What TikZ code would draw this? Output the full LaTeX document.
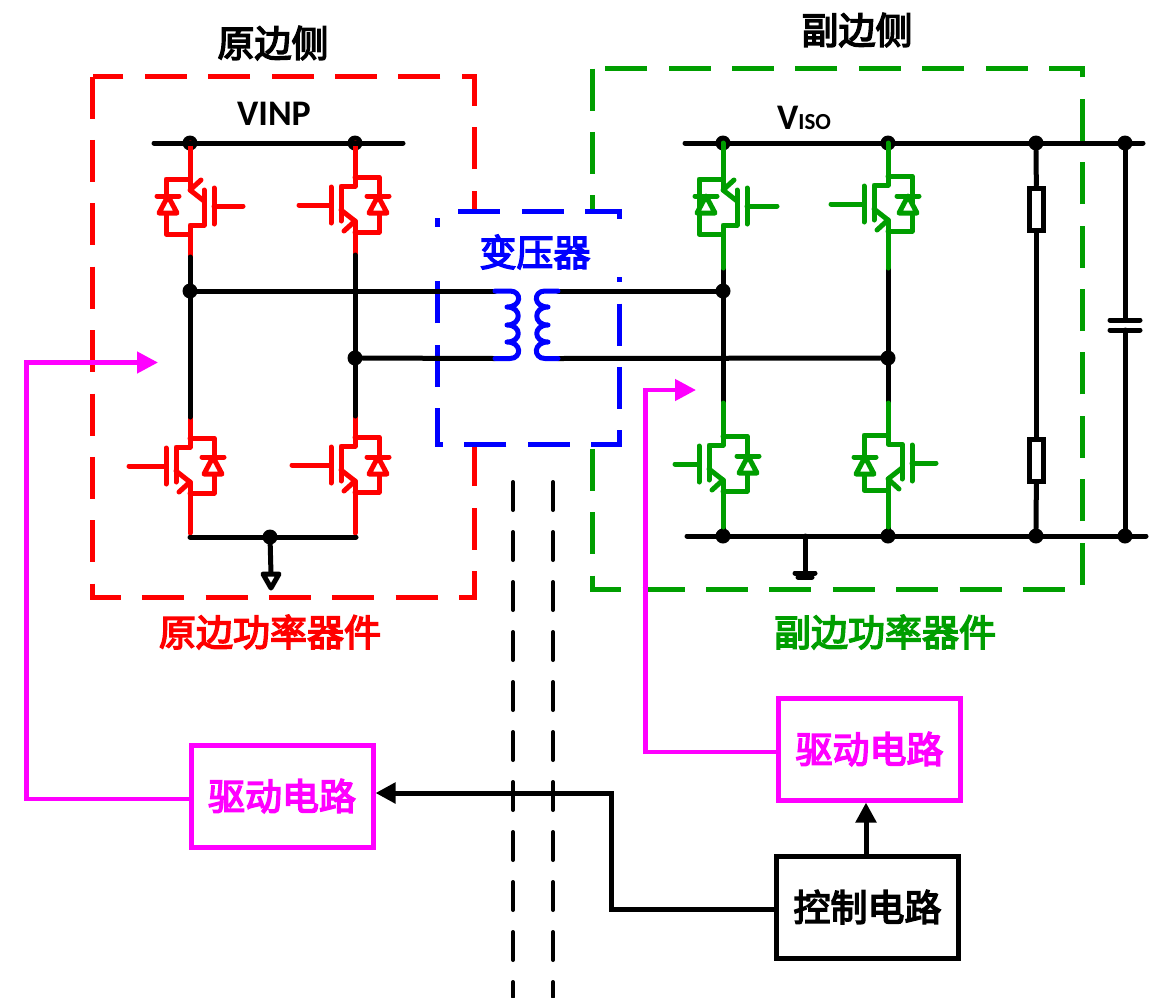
\documentclass[tikz,border=0pt]{standalone}
\usepackage{fontspec}
\usetikzlibrary{arrows.meta}
\newfontfamily\cjk[FakeBold=4]{Noto Sans CJK SC}
\newfontfamily\latin{Carlito}
\definecolor{sidegreen}{RGB}{0,158,0}
\definecolor{drivepink}{RGB}{255,0,255}
\begin{document}
\begin{tikzpicture}[x=1pt, y=-1pt]

        % Define custom styles
        \tikzset{
          wire/.style={line width=5pt, line cap=round, line join=round},
          device/.style={line width=5pt, line cap=round, line join=round},
          junction/.style={circle, fill=black, inner sep=0pt, minimum size=15pt},
          sidebox/.style={line width=5pt, dash pattern=on 42pt off 21.4pt},
          title/.style={font=\cjk\fontsize{37}{44}\selectfont, inner sep=0pt},
          volt/.style={font=\latin\bfseries\fontsize{36}{40}\selectfont, inner sep=0pt, anchor=base},
          funcbox/.style={draw, line width=5pt, fill=white, minimum width=182pt, minimum height=102pt,
            font=\cjk\fontsize{37}{44}\selectfont, inner sep=0pt},
          load/.style={draw, line width=5pt, fill=white, minimum width=14pt, minimum height=42pt, inner sep=0pt},
          drive/.style={line width=4.5pt, drivepink, -{Triangle[length=21pt, width=21pt]}},
          command/.style={line width=5pt, -{Triangle[length=20pt, width=20pt]}},
          barrier/.style={line width=4pt, line cap=round, dash pattern=on 28pt off 22pt},
          gatelen/.store in=\gatelen, gatelen=35,
          igbt/.pic={
            \draw[device] (-24-\gatelen,0) -- (-24,0);
            \draw[device] (-24,-18) -- (-24,18);
            \draw[device] (0,-28) -- (0,-19) -- (-14,-19) -- (-14,16);
            \draw[device] (-14,5) -- (0,16) -- (-11,26);
            \draw[device] (0,16) -- (0,27);
            \draw[device] (0,-28) -- (24,-28) -- (24,27) -- (0,27);
            \coordinate (-c) at (0,-28);
            \coordinate (-e) at (0,27);
          },
          diode/.pic={
            \draw[device] (-11,-9) -- (11,-9);
            \draw[device, fill=white] (0,-9) -- (-9,8) -- (9,8) -- cycle;
          }
        }

        \useasboundingbox (0,0) rectangle (1149,997);

        % Dashed boxes round the two sides and the transformer
        \draw[sidebox, red] (92.5,76.5) -- (92.5,597.5) -- (474.5,597.5) -- (474.5,76.5) -- cycle;
        \draw[sidebox, sidegreen] (592.5,68.5) -- (592.5,589) -- (1082,589) -- (1082,68.5) -- cycle;
        \draw[sidebox, blue, fill=white, dash phase=42pt] (437,211) -- (619.5,211) -- (619.5,444) -- (437,444) -- cycle;

        % Titles and labels
        \node[title] (primary) at (273,43) {原边侧};
        \node[title] (secondary) at (857,30) {副边侧};
        \node[title, text=blue, fill=white, minimum width=206pt, minimum height=50pt] (trafo) at (535,252) {变压器};
        \node[title, text=red] (primarylabel) at (270,632) {原边功率器件};
        \node[title, text=sidegreen] (secondarylabel) at (885,632) {副边功率器件};
        \node[volt] (vinp) at (274,125) {VINP};
        \node[volt] (viso) at (804,129) {V{\fontsize{23}{26}\selectfont ISO}};

        % Junctions
        \node[junction] (p1) at (190,143) {};
        \node[junction] (p2) at (355,143) {};
        \node[junction] (p3) at (190,291) {};
        \node[junction] (p4) at (355,358) {};
        \node[junction] (p5) at (270,537) {};
        \node[junction] (s1) at (723,143) {};
        \node[junction] (s2) at (888,143) {};
        \node[junction] (s3) at (1036,143) {};
        \node[junction] (s4) at (1125,143) {};
        \node[junction] (s5) at (723,291) {};
        \node[junction] (s6) at (888,358) {};
        \node[junction] (s7) at (723,536) {};
        \node[junction] (s8) at (888,536) {};
        \node[junction] (s9) at (1036,536) {};
        \node[junction] (s10) at (1125,536) {};

        % Free wire ends
        \coordinate (pbusl) at (154,143);
        \coordinate (pbusr) at (403,143);
        \coordinate (plowl) at (190,537);
        \coordinate (plowr) at (356,537);
        \coordinate (sbusl) at (685,143);
        \coordinate (sbusr) at (1143,143);
        \coordinate (slowl) at (687,536);
        \coordinate (slowr) at (1146,536);
        \coordinate (q1end) at (190,257);
        \coordinate (q2end) at (355,255);
        \coordinate (q3end) at (190,417);
        \coordinate (q4end) at (355,416);
        \coordinate (q5end) at (723,268);
        \coordinate (q6end) at (888,268);
        \coordinate (q7end) at (723,403);
        \coordinate (q8end) at (888,403);
        \coordinate (q3low) at (190,533);
        \coordinate (q4low) at (355,533);
        \coordinate (q7low) at (723,527);
        \coordinate (q8low) at (888,527);
        \coordinate (cl1) at (495,291);
        \coordinate (cl2) at (495,358.5);
        \coordinate (cr1) at (558,291);
        \coordinate (cr2) at (558,358.5);
        \coordinate (pgnd) at (271,574);
        \coordinate (sgndtop) at (805,536);
        \coordinate (sgnd) at (805,573);
        \coordinate (capa) at (1125,320);
        \coordinate (capb) at (1125,330);

        % Primary switches
        \pic[red, rotate=180, gatelen=29] (q1) at (190,206) {igbt};
        \pic[red, gatelen=32] (q2) at (355,205) {igbt};
        \pic[red, gatelen=37] (q3) at (190,466) {igbt};
        \pic[red, gatelen=39] (q4) at (355,465) {igbt};
        \pic[red] (d1) at (168,205) {diode};
        \pic[red] (d2) at (378,205) {diode};
        \pic[red] (d3) at (213,466) {diode};
        \pic[red] (d4) at (378,466) {diode};
        \draw[device, red] (q1-e) -- (p1.center);
        \draw[device, red] (q1-c) -- (q1end);
        \draw[device, red] (q2-c) -- (p2.center);
        \draw[device, red] (q2-e) -- (q2end);
        \draw[device, red] (q3-c) -- (q3end);
        \draw[device, red] (q3-e) -- (q3low);
        \draw[device, red] (q4-c) -- (q4end);
        \draw[device, red] (q4-e) -- (q4low);

        % Black wiring
        \draw[wire] (pbusl) -- (pbusr);
        \draw[wire] (plowl) -- (plowr);
        \draw[wire] (sbusl) -- (sbusr);
        \draw[wire] (slowl) -- (slowr);
        \draw[wire] (q1end) -- (p3);
        \draw[wire] (p3) -- (q3end);
        \draw[wire] (q2end) -- (p4);
        \draw[wire] (p4) -- (q4end);
        \draw[wire] (q5end) -- (s5);
        \draw[wire] (s5) -- (q7end);
        \draw[wire] (q6end) -- (s6);
        \draw[wire] (s6) -- (q8end);
        \draw[wire] (q7low) -- (s7);
        \draw[wire] (q8low) -- (s8);
        \draw[wire] (p3) -- (cl1);
        \draw[wire] (p4) -- (cl2);
        \draw[wire] (cr1) -- (s5);
        \draw[wire] (cr2) -- (s6);

        % Grounds
        \draw[wire] (p5) -- (pgnd);
        \draw[wire, fill=white] (pgnd) ++(-8,0) -- ++(16,0) -- ++(-8,14) -- cycle;
        \draw[wire] (sgndtop) -- (sgnd);
        \draw[wire, line width=5pt] (sgnd) ++(-10,0) -- ++(20,0);
        \draw[wire] (sgnd) ++(-7,4) -- ++(14,0);

        % Output resistors and capacitor
        \node[load] (r1) at (1036.5,209) {};
        \node[load] (r2) at (1036.5,460.5) {};
        \draw[wire] (s3) -- (r1);
        \draw[wire] (r1) -- (r2);
        \draw[wire] (r2) -- (s9);
        \draw[wire] (s4) -- (capa);
        \draw[wire] (capb) -- (s10);
        \draw[wire] (capa) ++(-15,0) -- ++(30,0);
        \draw[wire] (capb) ++(-15,0) -- ++(30,0);

        % Transformer windings
        \draw[wire, blue] (cl1) -- ++(15,0)
          .. controls +(12,0) and +(15,0) .. ++(-3,16)
          .. controls +(15,0) and +(15,0) .. ++(0,18)
          .. controls +(15,0) and +(15,0) .. ++(0,17)
          .. controls +(15,0) and +(12,0) .. ++(3,16.5) -- (cl2);
        \draw[wire, blue] (cr1) -- ++(-13,0)
          .. controls +(-12,0) and +(-15,0) .. ++(3,16)
          .. controls +(-15,0) and +(-15,0) .. ++(0,18)
          .. controls +(-15,0) and +(-15,0) .. ++(0,17)
          .. controls +(-15,0) and +(-12,0) .. ++(-3,16.5) -- (cr2);

        % Secondary switches
        \pic[sidegreen, rotate=180, gatelen=30] (q5) at (723,206) {igbt};
        \pic[sidegreen, gatelen=33] (q6) at (888,204) {igbt};
        \pic[sidegreen, gatelen=24] (q7) at (723,464) {igbt};
        \pic[sidegreen, xscale=-1, gatelen=24] (q8) at (888,463) {igbt};
        \pic[sidegreen] (d5) at (706,205) {diode};
        \pic[sidegreen] (d6) at (908,205) {diode};
        \pic[sidegreen] (d7) at (748,465) {diode};
        \pic[sidegreen] (d8) at (865,466) {diode};
        \draw[device, sidegreen] (q5-e) -- (s1.center);
        \draw[device, sidegreen] (q5-c) -- (q5end);
        \draw[device, sidegreen] (q6-c) -- (s2.center);
        \draw[device, sidegreen] (q6-e) -- (q6end);
        \draw[device, sidegreen] (q7-c) -- (q7end);
        \draw[device, sidegreen] (q7-e) -- (q7low);
        \draw[device, sidegreen] (q8-c) -- (q8end);
        \draw[device, sidegreen] (q8-e) -- (q8low);

        % Isolation barrier
        \coordinate (bar1a) at (513,482);
        \coordinate (bar1b) at (513,997);
        \coordinate (bar2a) at (553,482);
        \coordinate (bar2b) at (553,997);
        \draw[barrier] (bar1a) -- (bar1b);
        \draw[barrier] (bar2a) -- (bar2b);

        % Driver and control blocks
        \node[funcbox, draw=drivepink, text=drivepink] (drv1) at (282,796) {驱动电路};
        \node[funcbox, draw=drivepink, text=drivepink] (drv2) at (869.5,749) {驱动电路};
        \node[funcbox] (ctrl) at (867.5,907) {控制电路};

        % Signal paths
        \coordinate (drv1bend) at (26.5,799);
        \coordinate (drv1tip) at (158,362.5);
        \coordinate (drv2bend) at (645.5,752);
        \coordinate (drv2tip) at (696,390);
        \coordinate (ctrlbend) at (611,909);
        \coordinate (drv1in) at (611,793);
        \coordinate (ctrlup) at (866,830);
        \draw[drive] (drv1bend -| drv1.west) -- (drv1bend) |- (drv1tip);
        \draw[drive] (drv2bend -| drv2.west) -- (drv2bend) |- (drv2tip);
        \draw[command] (ctrlbend -| ctrl.west) -- (ctrlbend) |- (drv1in -| drv1.east);
        \draw[command] (ctrlup |- ctrl.north) -- (ctrlup |- drv2.south);

\end{tikzpicture}
\end{document}
